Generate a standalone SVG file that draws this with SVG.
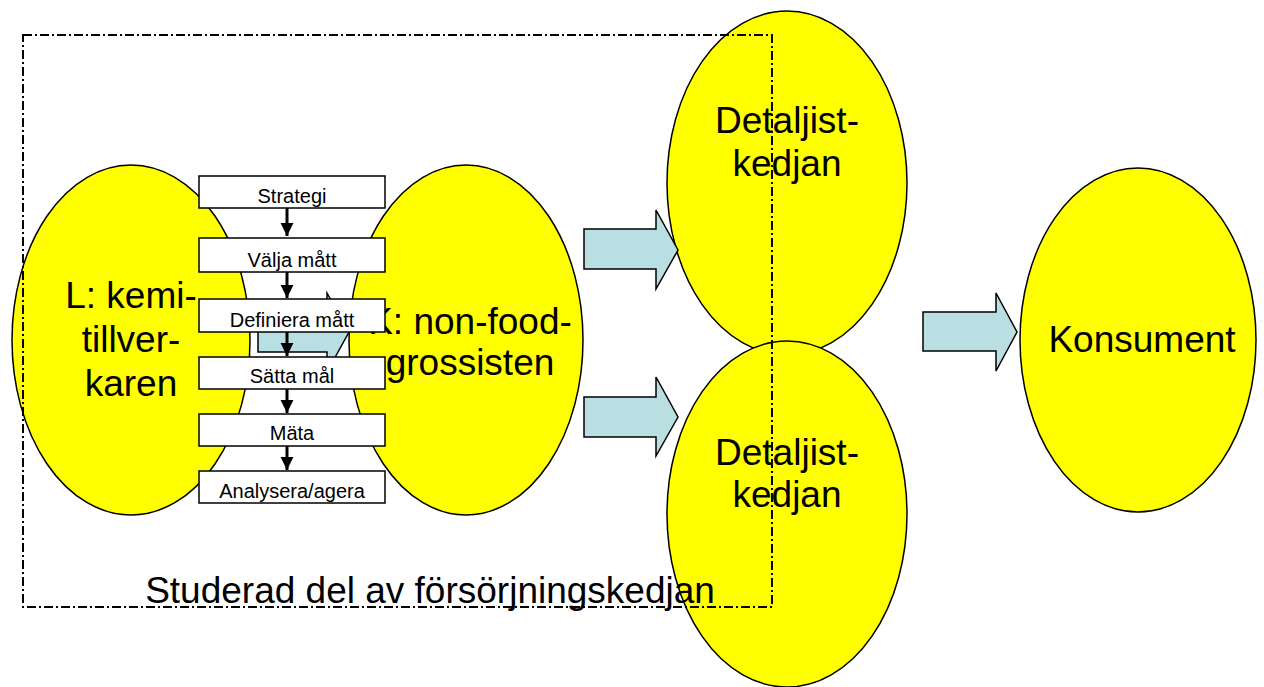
<svg xmlns="http://www.w3.org/2000/svg" width="1264" height="687" viewBox="0 0 1264 687">
<style>
.ell{fill:#ffff00;stroke:#000;stroke-width:1.5}
.big{font-family:"Liberation Sans",Arial,sans-serif;font-size:37px;fill:#000;text-anchor:middle}
.box{fill:#fff;stroke:#000;stroke-width:1.5}
.small{font-family:"Liberation Sans",Arial,sans-serif;font-size:20px;fill:#000;text-anchor:middle}
.blk{fill:#b9dfe3;stroke:#000;stroke-width:1.5;stroke-linejoin:miter}
.step{stroke:#000;stroke-width:3;fill:none;marker-end:url(#ah)}
.frame{fill:none;stroke:#000;stroke-width:2;stroke-dasharray:9 3 2 3}
</style>
<defs>
<marker id="ah" viewBox="0 0 10 10" refX="10" refY="5" markerWidth="4.3" markerHeight="4.4" orient="auto" markerUnits="strokeWidth">
<path d="M0,0 L10,5 L0,10 Z" fill="#000"/>
</marker>
</defs>
<rect width="1264" height="687" fill="#fff"/>
<g id="connectors-hidden">
<path class="blk" d="M258,313 H327 V293 L349,332 L327,372 V352 H258 Z"/>
</g>
<g id="node-L">
<ellipse class="ell" cx="131" cy="340" rx="119" ry="175"/>
<text class="big" x="131" y="308">L: kemi-</text>
<text class="big" x="131" y="352">tillver-</text>
<text class="big" x="131" y="396">karen</text>
</g>
<g id="node-K">
<ellipse class="ell" cx="466" cy="340" rx="117" ry="175"/>
<text class="big" x="470" y="334">K: non-food-</text>
<text class="big" x="470" y="375">grossisten</text>
</g>
<g id="node-D1">
<ellipse class="ell" cx="787" cy="183" rx="120" ry="172"/>
<text class="big" x="787" y="133">Detaljist-</text>
<text class="big" x="787" y="176">kedjan</text>
</g>
<g id="node-D2">
<ellipse class="ell" cx="787" cy="514" rx="120" ry="173"/>
<text class="big" x="787" y="465">Detaljist-</text>
<text class="big" x="787" y="507">kedjan</text>
</g>
<g id="node-Konsument">
<ellipse class="ell" cx="1138" cy="340" rx="118" ry="172"/>
<text class="big" x="1142" y="352">Konsument</text>
</g>
<g id="connectors">
<path class="blk" d="M584,229 H656 V210 L678,250 L656,289 V269 H584 Z"/>
<path class="blk" d="M584,397 H656 V377 L678,417 L656,456 V437 H584 Z"/>
<path class="blk" d="M923,312 H996 V293 L1017,332 L996,371 V351 H923 Z"/>
<line class="step" x1="287" y1="208" x2="287" y2="236"/>
<line class="step" x1="287" y1="272" x2="287" y2="298"/>
<line class="step" x1="287" y1="332" x2="287" y2="356"/>
<line class="step" x1="287" y1="389" x2="287" y2="413"/>
<line class="step" x1="287" y1="446" x2="287" y2="470"/>
</g>
<g id="node-strategi">
<rect class="box" x="199" y="176" width="186" height="32"/>
<text class="small" x="292" y="203">Strategi</text>
</g>
<g id="node-valja">
<rect class="box" x="199" y="238" width="186" height="34"/>
<text class="small" x="292" y="267">Välja mått</text>
</g>
<g id="node-definiera">
<rect class="box" x="199" y="299" width="186" height="33"/>
<text class="small" x="292" y="327">Definiera mått</text>
</g>
<g id="node-satta">
<rect class="box" x="199" y="357" width="186" height="32"/>
<text class="small" x="292" y="383">Sätta mål</text>
</g>
<g id="node-mata">
<rect class="box" x="199" y="414" width="186" height="32"/>
<text class="small" x="292" y="440">Mäta</text>
</g>
<g id="node-analysera">
<rect class="box" x="199" y="471" width="186" height="32"/>
<text class="small" x="292" y="498">Analysera/agera</text>
</g>
<g id="frame">
<rect class="frame" x="23" y="35" width="749" height="572"/>
<text class="big" x="430" y="603">Studerad del av försörjningskedjan</text>
</g>
</svg>
